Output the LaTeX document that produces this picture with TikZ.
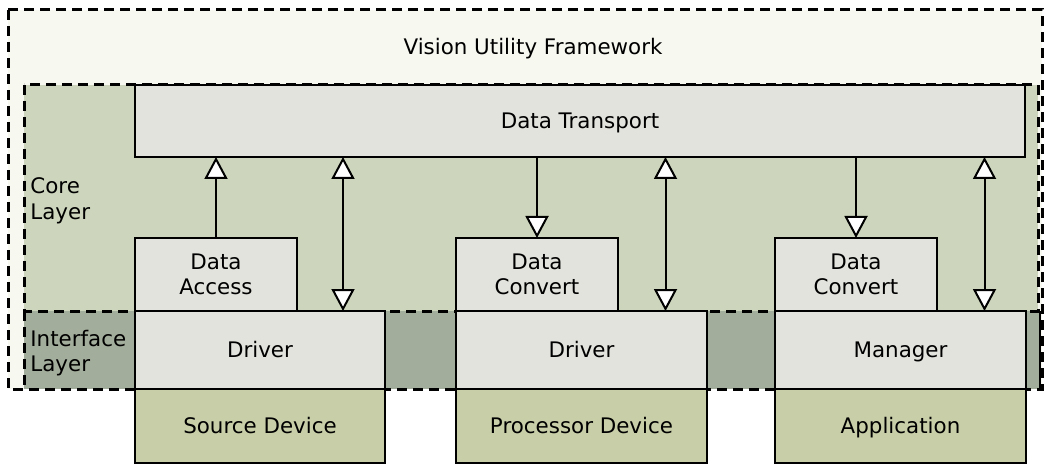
\documentclass[tikz,border=0pt]{standalone}
\usepackage{fontspec}
\setmainfont{DejaVu Sans}
\usetikzlibrary{arrows.meta, positioning}
\definecolor{frameback}{HTML}{F7F8F0}
\definecolor{coreback}{HTML}{CDD6BD}
\definecolor{ifaceback}{HTML}{A3AD9B}
\definecolor{boxfill}{HTML}{E2E3DC}
\definecolor{devfill}{HTML}{C8CFA8}
\tikzset{
    layerline/.style={draw=black, line width=1.5pt, dash pattern=on 5pt off 3pt},
    graynode/.style={rectangle, draw=black, fill=boxfill, line width=1pt, inner sep=0pt, outer sep=0pt, align=center},
    oneline/.style={text height=8.8pt, text depth=1.2pt},
    devnode/.style={graynode, oneline, fill=devfill},
    opentip/.tip={Triangle[fill=white, length=11pt, width=11.5pt]},
    myarrow/.style={-opentip, line width=1pt},
    bothway/.style={opentip-opentip, line width=1pt},
    mylabel/.style={align=left, inner sep=0pt, anchor=west}
}

\begin{document}
\begin{tikzpicture}[x=0.5pt, y=-0.5pt, font=\fontsize{10.7}{12.8}\selectfont]
    \useasboundingbox (0,0) rectangle (1047,464);

        % ------------------
        % layers
        % ------------------

        \fill[frameback] (8,10) rectangle (1042,389);
        \fill[coreback] (24,85) rectangle (1038,311);
        \fill[ifaceback] (24,311) rectangle (1040,389);
        \draw[layerline] (8,10) rectangle (1042,389);
        \draw[layerline] (24,85) rectangle (1038,311);
        \draw[layerline] (24,311) -- (24,389);
        \draw[line width=1pt] (1040,311) -- (1040,389);

        \node[oneline] (title) at (533,47) {Vision Utility Framework};
        \node[mylabel] (corelbl) at (30,201) {Core\\Layer};
        \node[mylabel] (ifacelbl) at (30,353) {Interface\\Layer};

        % ------------------
        % nodes
        % ------------------

        \node[graynode, oneline, minimum width=445pt, minimum height=36pt] (transport) at (580,121) {Data Transport};

        \node[graynode, oneline, minimum width=125pt, minimum height=39pt, anchor=north west] (drv1) at (135,311) {Driver};
        \node[devnode, minimum width=125pt, minimum height=37pt, below=0pt of drv1] (source) {Source Device};
        \node[graynode, minimum width=81pt, minimum height=36.5pt, anchor=south west] (access) at (drv1.north west) {Data\\Access};

        \node[graynode, oneline, minimum width=125.5pt, minimum height=39pt, anchor=north west] (drv2) at (456,311) {Driver};
        \node[devnode, minimum width=125.5pt, minimum height=37pt, below=0pt of drv2] (proc) {Processor Device};
        \node[graynode, minimum width=81pt, minimum height=36.5pt, anchor=south west] (conv1) at (drv2.north west) {Data\\Convert};

        \node[graynode, oneline, minimum width=125.5pt, minimum height=39pt, anchor=north west] (mgr) at (775,311) {Manager};
        \node[devnode, minimum width=125.5pt, minimum height=37pt, below=0pt of mgr] (app) {Application};
        \node[graynode, minimum width=81pt, minimum height=36.5pt, anchor=south west] (conv2) at (mgr.north west) {Data\\Convert};

        % ------------------
        % arrows
        % ------------------

        \draw[myarrow] (access.north) -- (access.north |- transport.south);
        \draw[bothway] ([xshift=41.5pt]drv1.north) -- ([xshift=41.5pt]drv1.north |- transport.south);

        \draw[myarrow] (conv1.north |- transport.south) -- (conv1.north);
        \draw[bothway] ([xshift=42pt]drv2.north) -- ([xshift=42pt]drv2.north |- transport.south);

        \draw[myarrow] (conv2.north |- transport.south) -- (conv2.north);
        \draw[bothway] ([xshift=42pt]mgr.north) -- ([xshift=42pt]mgr.north |- transport.south);

\end{tikzpicture}
\end{document}
